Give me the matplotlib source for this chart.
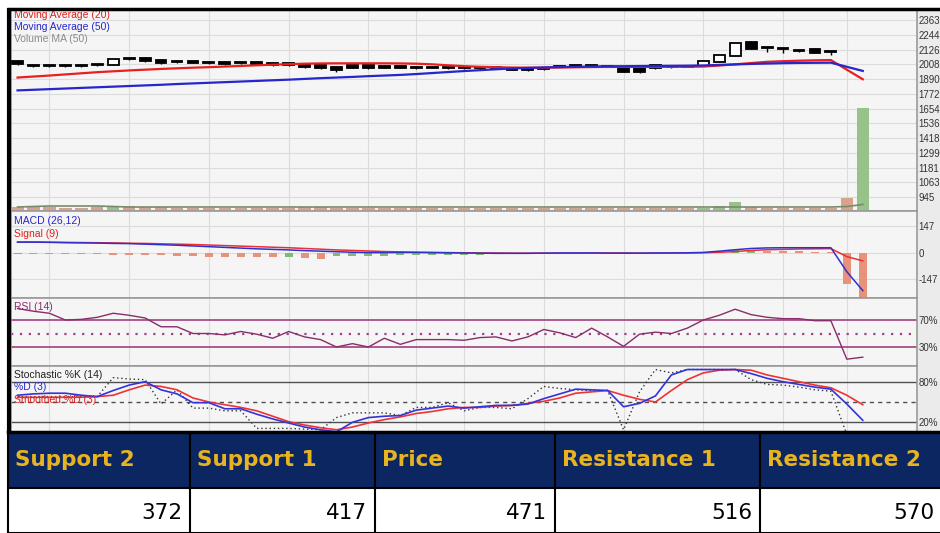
import numpy as np
import matplotlib.pyplot as plt
from matplotlib.patches import Rectangle

plt.rcParams['font.family'] = ['Liberation Sans', 'DejaVu Sans']

# daily candles (last two days fall far below the visible price range)
opens = [2035, 2000, 2003, 1998, 1998, 2011, 2003, 2055, 2059, 2043,
         2030, 2035, 2021, 2027, 2022, 2027, 2019, 2019, 2011, 2003,
         1990, 2000, 2003, 1998, 1998, 1990, 1990, 1987, 1984, 1984,
         1982, 1967, 1980, 1972, 1990, 1995, 1996, 1990, 1979, 1979,
         2003, 1990, 1990, 1995, 2027, 2075, 2187, 2142, 2133, 2117,
         2131, 2110, 480, 440]
closes = [2011, 1992, 1995, 1992, 1992, 2003, 2050, 2048, 2035, 2015,
          2024, 2019, 2017, 2011, 2017, 2011, 1999, 1999, 1983, 1975,
          1965, 1980, 1975, 1978, 1980, 1978, 1980, 1975, 1975, 1977,
          1978, 1965, 1962, 1970, 1988, 1993, 1994, 1986, 1950, 1948,
          1975, 1986, 1987, 2035, 2083, 2179, 2131, 2136, 2127, 2113,
          2099, 2104, 440, 471]
highs = [2040, 2003, 2005, 2000, 2000, 2013, 2052, 2058, 2070, 2045,
         2032, 2037, 2024, 2030, 2025, 2028, 2020, 2020, 2013, 2005,
         1992, 2003, 2005, 2000, 2000, 1995, 1995, 1990, 1988, 1988,
         1985, 1970, 1983, 1976, 1993, 1998, 1999, 1993, 1982, 1981,
         2005, 1992, 1992, 2037, 2085, 2181, 2195, 2145, 2136, 2125,
         2135, 2112, 495, 480]
lows = [2005, 1985, 1988, 1985, 1987, 1995, 2000, 2045, 2030, 2012,
        2018, 2015, 2010, 2005, 2010, 2008, 1995, 1995, 1980, 1970,
        1950, 1975, 1970, 1975, 1975, 1972, 1975, 1972, 1970, 1972,
        1975, 1962, 1958, 1966, 1985, 1990, 1991, 1983, 1947, 1940,
        1970, 1982, 1984, 1992, 2025, 2073, 2128, 2105, 2100, 2105,
        2095, 2085, 430, 435]
ma20 = [1902, 1910, 1918, 1927, 1936, 1945, 1952, 1959, 1965, 1971,
        1976, 1981, 1985, 1990, 1995, 2000, 2005, 2009, 2013, 2015,
        2016, 2016, 2016, 2016, 2015, 2013, 2008, 2000, 1993, 1988,
        1985, 1982, 1981, 1981, 1982, 1984, 1986, 1987, 1987, 1987,
        1987, 1988, 1988, 1990, 1998, 2008, 2018, 2028, 2033, 2037,
        2040, 2042, 1965, 1888]
ma50 = [1799, 1804, 1809, 1814, 1819, 1824, 1829, 1834, 1839, 1844,
        1850, 1855, 1860, 1865, 1870, 1875, 1880, 1885, 1891, 1897,
        1902, 1907, 1913, 1918, 1923, 1930, 1938, 1946, 1954, 1961,
        1968, 1975, 1979, 1983, 1986, 1988, 1990, 1992, 1993, 1994,
        1995, 1996, 1997, 1999, 2003, 2007, 2011, 2014, 2017, 2019,
        2020, 2021, 1988, 1955]
volume = [3, 3, 3, 2, 2, 3, 4, 4, 3, 3, 2, 2, 2, 2, 2, 2, 2, 2, 3, 3,
          2, 2, 2, 2, 2, 2, 2, 2, 2, 2, 2, 2, 2, 2, 2, 2, 2, 2, 2, 2,
          2, 2, 2, 2, 4, 8, 3, 2, 2, 2, 2, 2, 12, 102]
vol_ma = [3, 3.5, 4, 4, 4, 4, 3.5, 3, 3, 3, 3, 3, 3, 3, 3, 3, 3, 3, 3, 3,
          3, 3, 3, 3, 3, 3, 3, 3, 3, 3, 3, 3, 3, 3, 3, 3, 3, 3, 3, 3,
          3, 3, 3, 3, 3, 3, 3, 3, 3, 3, 3, 3, 3.5, 5.5]

macd = [60, 60, 59, 57, 56, 55, 53, 52, 49, 46, 43, 39, 35, 31, 27, 23,
        20, 17, 13, 10, 7, 4, 2, 2, 3, 3, 2, 1, 0, -1, -2, -2, -2, -1,
        0, 0, 0, -1, -1, -1, 0, 0, 1, 3, 10, 18, 25, 28, 29, 29, 29, 29,
        -104, -209]
signal = [61, 61, 60, 59, 58, 57, 56, 54, 53, 51, 49, 47, 44, 41, 38, 35,
          32, 29, 25, 21, 17, 14, 11, 8, 6, 4, 3, 2, 1, 0, 0, -1, -1, -1,
          -1, -1, 0, 0, 0, -1, -1, 0, 0, 1, 4, 8, 14, 18, 20, 22, 23, 24,
          -20, -44]
macd_hist = [-3, -4, -5, -6, -7, -8, -9, -10, -11, -14, -16, -18, -20, -21,
             -22, -23, -24, -20, -26, -34, -18, -17, -16, -15, -14, -13,
             -12, -11, -10, -9, -8, -7, -6, -4, -3, -3, -2, -2, -3, -1, 0,
             0.5, 1, 2, 5, 14, 16, 12, 10, 9, 8, 6, -175, -260]
rsi = [87, 83, 80, 70, 71, 74, 80, 77, 73, 60, 60, 50, 50, 48, 53, 49,
       43, 53, 45, 41, 30, 35, 30, 43, 34, 41, 41, 41, 40, 44, 45, 39,
       45, 56, 51, 44, 58, 45, 31, 49, 52, 50, 58, 70, 77, 86, 78, 74,
       72, 72, 69, 69, 12, 15]
stoch_k = [58, 58, 58, 58, 58, 58, 86, 84, 83, 47, 68, 41, 41, 37, 37, 11,
           11, 11, 10, 9, 27, 34, 34, 34, 30, 42, 42, 49, 37, 42, 42, 40,
           55, 73, 70, 68, 67, 67, 9, 65, 98, 93, 98, 98, 98, 98, 83, 76,
           75, 72, 68, 66, 2, 0]
stoch_d = [60, 62, 63, 63, 60, 58, 67, 75, 80, 68, 62, 49, 49, 40, 40, 32,
           25, 19, 13, 9, 6, 20, 27, 29, 30, 38, 41, 44, 41, 43, 45, 45,
           47, 55, 62, 69, 68, 67, 43, 48, 59, 90, 98, 98, 98, 98, 92, 85,
           80, 76, 72, 69, 47, 23]
stoch_sd = [57, 57, 57, 57, 57, 58, 60, 68, 75, 73, 68, 56, 50, 46, 42, 37,
            29, 21, 16, 12, 9, 13, 19, 24, 28, 33, 36, 40, 42, 42, 44, 45,
            48, 51, 56, 63, 65, 67, 60, 54, 50, 67, 83, 93, 97, 98, 97, 90,
            85, 80, 75, 71, 60, 46]

price_ticks = [945, 1063, 1181, 1299, 1418, 1536, 1654, 1772, 1890, 2008,
               2126, 2244, 2363]
macd_ticks = [-147, 0, 147]
rsi_ticks = [30, 70]
stoch_ticks = [20, 80]
month_idx = [2, 7, 12, 17, 22, 25, 28, 33, 38, 43, 48, 52]

levels = ['Support 2', 'Support 1', 'Price', 'Resistance 1', 'Resistance 2']
level_values = [372, 417, 471, 516, 570]

W, H = 940, 533
fig = plt.figure(figsize=(W / 100, H / 100), dpi=100)
fig.patch.set_facecolor('white')


def px_axes(x0, y0, x1, y1, **kw):
    return fig.add_axes([x0 / W, 1 - y1 / H, (x1 - x0) / W, (y1 - y0) / H], **kw)


# background: grey column behind the right-hand scale
bg = px_axes(0, 0, W, H, zorder=-5)
bg.set_xlim(0, W)
bg.set_ylim(H, 0)
bg.axis('off')
bg.add_patch(Rectangle((917, 10), 23, 422, color='#ebebeb', lw=0))

XMIN, XMAX = -0.41, 56.4
x = np.arange(len(closes))


def panel(y0, y1, ylim, ticks, labels, hgrid=True):
    ax = px_axes(11, y0, 917, y1)
    ax.set_facecolor('#f5f5f5')
    ax.set_xlim(XMIN, XMAX)
    ax.set_ylim(*ylim)
    ax.yaxis.tick_right()
    ax.set_yticks(ticks)
    ax.set_yticklabels(labels)
    ax.tick_params(axis='y', length=0, pad=1.2, labelsize=7, labelcolor='#333333')
    ax.set_xticks(month_idx)
    ax.tick_params(axis='x', length=0, labelbottom=False)
    ax.grid(True, axis='x', color='#dcdcdc', lw=0.8)
    if hgrid:
        ax.grid(True, axis='y', color='#dcdcdc', lw=0.8)
    ax.set_axisbelow(True)
    for s in ax.spines.values():
        s.set_color('#9a9a9a')
        s.set_linewidth(1.2)
    return ax


# ---- price panel
ax = panel(10, 211, (833, 2443), price_ticks, [str(t) for t in price_ticks])
o = np.array(opens)
c = np.array(closes)
up = c >= o
ax.vlines(x, lows, highs, color='black', lw=1, zorder=3)
ax.bar(x, np.maximum(np.abs(c - o), 10), bottom=np.minimum(o, c), width=0.68,
       color=np.where(up, 'white', 'black'), edgecolor='black', lw=1.3, zorder=4)
ax.plot(x, ma20, color='#e82020', lw=1.6, zorder=5)
ax.plot(x, ma50, color='#2626cc', lw=1.6, zorder=5)
ax.text(0.003, 0.975, 'Moving Average (20)', transform=ax.transAxes, color='#e02020',
        fontsize=7.5, va='center')
ax.text(0.003, 0.915, 'Moving Average (50)', transform=ax.transAxes, color='#2626cc',
        fontsize=7.5, va='center')
ax.text(0.003, 0.855, 'Volume MA (50)', transform=ax.transAxes, color='#8c8c8c',
        fontsize=7.5, va='center')

axv = px_axes(11, 10, 917, 211)
axv.set_facecolor('none')
axv.set_xlim(XMIN, XMAX)
axv.set_ylim(-1, 200)
axv.axis('off')
axv.bar(x, volume, width=0.78, color=np.where(up, '#97c28a', '#d8a38c'), lw=0)
axv.plot(x, vol_ma, color='#7b8a6c', lw=1.2)

# ---- MACD panel
axm = panel(211, 298, (-250, 233), macd_ticks, [str(t) for t in macd_ticks])
hist = np.array(macd_hist, dtype=float)
rising = np.concatenate([[True], hist[1:] >= hist[:-1]])
axm.bar(x, hist, width=0.5, color=np.where(rising, '#7fbb70', '#e8927c'), lw=0)
axm.plot(x, signal, color='#e83030', lw=1.1)
axm.plot(x, macd, color='#3030d0', lw=1.1)
axm.text(0.003, 0.88, 'MACD (26,12)', transform=axm.transAxes, color='#2626cc',
         fontsize=7.5, va='center')
axm.text(0.003, 0.74, 'Signal (9)', transform=axm.transAxes, color='#e02020',
         fontsize=7.5, va='center')

# ---- RSI panel
axr = panel(298, 366, (1.9, 102.6), rsi_ticks, ['30%', '70%'], hgrid=False)
for lvl in rsi_ticks:
    axr.axhline(lvl, color='#a0407f', lw=1.2)
axr.axhline(50, color='#a0407f', lw=1.6, ls=(0, (1, 3)))
axr.plot(x, rsi, color='#8a2c6c', lw=1)
axr.text(0.003, 0.87, 'RSI (14)', transform=axr.transAxes, color='#8a2c6c',
         fontsize=7.5, va='center')

# ---- Stochastic panel
axs = panel(366, 432, (5.7, 103.2), stoch_ticks, ['20%', '80%'], hgrid=False)
for lvl in stoch_ticks:
    axs.axhline(lvl, color='#505050', lw=1)
axs.axhline(50, color='#505050', lw=1, ls=(0, (3, 3)))
axs.plot(x, stoch_k, color='#333333', lw=1, ls=(0, (1, 2)))
axs.plot(x, stoch_sd, color='#ee3333', lw=1.2)
axs.plot(x, stoch_d, color='#3333dd', lw=1.2)
axs.text(0.003, 0.87, 'Stochastic %K (14)', transform=axs.transAxes, color='#222222',
         fontsize=7.5, va='center')
axs.text(0.003, 0.68, '%D (3)', transform=axs.transAxes, color='#2626cc',
         fontsize=7.5, va='center')
axs.text(0.003, 0.49, 'Smoothed %D (3)', transform=axs.transAxes, color='#e02020',
         fontsize=7.5, va='center')

# ---- frame and support / resistance table
top = px_axes(0, 0, W, H, zorder=10)
top.set_facecolor('none')
top.set_xlim(0, W)
top.set_ylim(H, 0)
top.axis('off')
top.plot([8.5, 8.5], [8, 432], color='black', lw=3, solid_capstyle='butt')
top.plot([7, W], [9, 9], color='black', lw=2.5, solid_capstyle='butt')

edges = [8, 190, 375, 555, 760, 942]
top.add_patch(Rectangle((8, 432), W - 8, 56, color='#0b2660', lw=0))
top.add_patch(Rectangle((8, 488), W - 8, 45, color='white', lw=0))
top.plot([8, W], [432, 432], color='black', lw=2.5)
top.plot([8, W], [488, 488], color='black', lw=1.5)
top.plot([8, W], [532.5, 532.5], color='black', lw=1.5)
for e in edges[:-1]:
    top.plot([e, e], [432, 533], color='black', lw=1.5)
for i, name in enumerate(levels):
    top.text(edges[i] + 7, 460, name, color='#e8b320', fontsize=15.5,
             fontweight='bold', family='DejaVu Sans', va='center', ha='left')
    top.text(edges[i + 1] - 8, 513, str(level_values[i]), color='black',
             fontsize=15.5, family='DejaVu Sans', va='center', ha='right')

fig.savefig('out.png', dpi=100)
